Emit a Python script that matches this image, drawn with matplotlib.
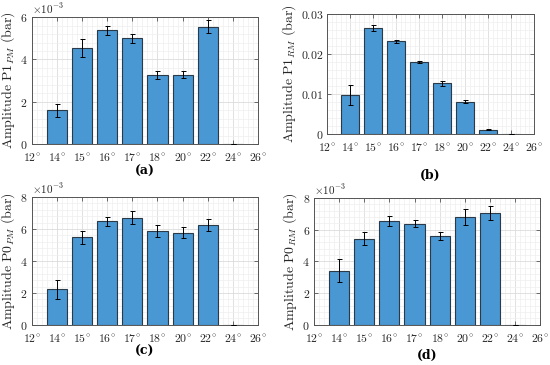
import numpy as np
import matplotlib
matplotlib.use("Agg")
import matplotlib.pyplot as plt
from matplotlib.ticker import AutoMinorLocator

plt.rcParams["mathtext.fontset"] = "cm"
plt.rcParams["font.family"] = "DejaVu Serif"

angles = ["12", "14", "15", "16", "17", "18", "20", "22", "24", "26"]
bar_angles = ["14", "15", "16", "17", "18", "20", "22", "24"]

p1_pm = [1.6e-3, 4.55e-3, 5.38e-3, 5.0e-3, 3.28e-3, 3.28e-3, 5.55e-3, 0.0]
p1_pm_err = [0.32e-3, 0.42e-3, 0.2e-3, 0.2e-3, 0.2e-3, 0.17e-3, 0.3e-3, 0.0]

p1_rm = [0.0097, 0.0265, 0.0231, 0.0180, 0.0127, 0.0081, 0.0011, 0.0]
p1_rm_err = [0.0025, 0.0007, 0.0004, 0.0003, 0.0006, 0.0004, 0.0001, 0.0]

p0_pm = [2.22e-3, 5.48e-3, 6.48e-3, 6.72e-3, 5.88e-3, 5.78e-3, 6.25e-3, 0.0]
p0_pm_err = [0.58e-3, 0.42e-3, 0.3e-3, 0.4e-3, 0.38e-3, 0.35e-3, 0.38e-3, 0.0]

p0_rm = [3.42e-3, 5.42e-3, 6.55e-3, 6.38e-3, 5.6e-3, 6.8e-3, 7.05e-3, 0.0]
p0_rm_err = [0.7e-3, 0.4e-3, 0.3e-3, 0.2e-3, 0.25e-3, 0.5e-3, 0.42e-3, 0.0]

BAR_COLOR = "#4a98d3"
TEXT_COLOR = "#262626"


def draw_panel(fig, rect, values, errors, ylim, yticks, ytick_labels, ylabel, scale_text, letter, letter_y):
    ax = fig.add_axes(rect)
    x = np.array([angles.index(a) for a in bar_angles])
    ax.bar(x, values, width=0.8, color=BAR_COLOR, edgecolor="#2b3a48",
           linewidth=0.8, zorder=3)
    ax.errorbar(x, values, yerr=errors, fmt="none", ecolor="black",
                elinewidth=0.7, capsize=1.8, capthick=0.7, zorder=4)
    ax.set_xlim(0, len(angles) - 1)
    ax.set_ylim(*ylim)
    ax.set_xticks(range(len(angles)))
    ax.set_xticklabels([r"$%s^{\circ}$" % a for a in angles], fontsize=8.5, color=TEXT_COLOR)
    ax.set_yticks(yticks)
    ax.set_yticklabels([r"$%s$" % t for t in ytick_labels], fontsize=8.5, color=TEXT_COLOR)
    ax.xaxis.set_minor_locator(AutoMinorLocator(5))
    ax.yaxis.set_minor_locator(AutoMinorLocator(5))
    ax.grid(which="major", color="#dcdcdc", linewidth=0.6, zorder=0)
    ax.grid(which="minor", color="#efefef", linewidth=0.5, zorder=0)
    ax.set_axisbelow(True)
    ax.tick_params(which="both", direction="in", top=True, right=True,
                   color="#555555", length=3, width=0.6, pad=3)
    ax.tick_params(axis="x", pad=5.5)
    ax.tick_params(which="minor", length=0)
    for s in ax.spines.values():
        s.set_color("#555555")
        s.set_linewidth(0.7)
    ax.set_ylabel(ylabel, fontsize=10, color=TEXT_COLOR, labelpad=2)
    if scale_text:
        ax.text(0.0, 1.01, scale_text, transform=ax.transAxes, fontsize=8,
                color=TEXT_COLOR, ha="left", va="bottom")
    cx = rect[0] + rect[2] / 2
    fig.text(cx, letter_y, letter, ha="center", va="center", fontsize=9,
             fontweight="bold", color="black")
    return ax


fig = plt.figure(figsize=(5.5, 3.65), dpi=100)

draw_panel(fig, [0.058, 0.605, 0.411, 0.348], p1_pm, p1_pm_err, (0, 6e-3),
           [0, 2e-3, 4e-3, 6e-3], ["0", "2", "4", "6"],
           r"$\mathrm{Amplitude\ P1}_{PM}\ \mathrm{(bar)}$",
           r"$\times 10^{-3}$", "(a)", 1 - 171 / 365)

draw_panel(fig, [0.595, 0.633, 0.376, 0.329], p1_rm, p1_rm_err, (0, 0.03),
           [0, 0.01, 0.02, 0.03], ["0", "0.01", "0.02", "0.03"],
           r"$\mathrm{Amplitude\ P1}_{RM}\ \mathrm{(bar)}$",
           None, "(b)", 1 - 175 / 365)

draw_panel(fig, [0.058, 0.110, 0.411, 0.350], p0_pm, p0_pm_err, (0, 8e-3),
           [0, 2e-3, 4e-3, 6e-3, 8e-3], ["0", "2", "4", "6", "8"],
           r"$\mathrm{Amplitude\ P0}_{PM}\ \mathrm{(bar)}$",
           r"$\times 10^{-3}$", "(c)", 1 - 351 / 365)

draw_panel(fig, [0.571, 0.110, 0.411, 0.348], p0_rm, p0_rm_err, (0, 8e-3),
           [0, 2e-3, 4e-3, 6e-3, 8e-3], ["0", "2", "4", "6", "8"],
           r"$\mathrm{Amplitude\ P0}_{RM}\ \mathrm{(bar)}$",
           r"$\times 10^{-3}$", "(d)", 1 - 355 / 365)

fig.savefig("out.png", dpi=100)
